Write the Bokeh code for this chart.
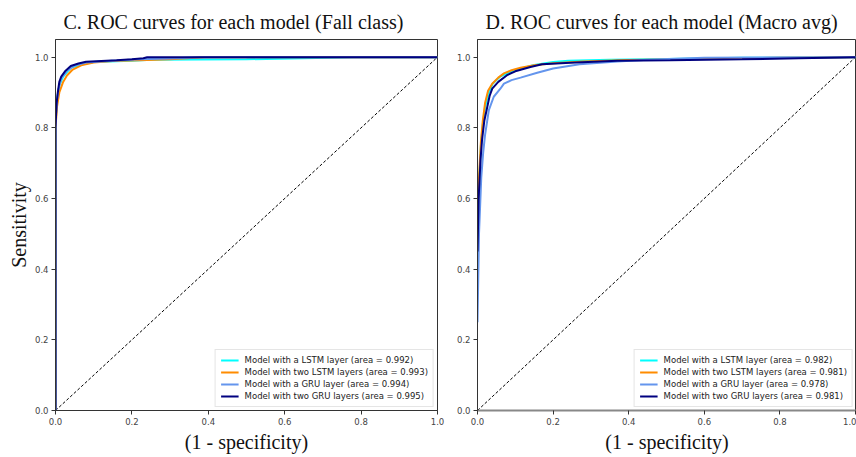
from bokeh.plotting import figure
from bokeh.layouts import row
from bokeh.models import Range1d, FixedTicker, PrintfTickFormatter, Legend
from bokeh.embed import file_html
from bokeh.resources import INLINE

# ---------------- data ----------------
model_labels = ["Model with a LSTM layer", "Model with two LSTM layers",
                "Model with a GRU layer", "Model with two GRU layers"]
colors = ["#00FFFF", "#FF8C00", "#6495ED", "#000080"]
ticks = [0.0, 0.2, 0.4, 0.6, 0.8, 1.0]

# Panel C: Fall class
fall_auc = [0.992, 0.993, 0.994, 0.995]
fall_lstm1_fpr = [0, 0, 0.004, 0.01, 0.02, 0.04, 0.07, 0.10, 0.20, 0.25, 0.50, 0.78, 1.0]
fall_lstm1_tpr = [0, 0.82, 0.88, 0.92, 0.945, 0.97, 0.98, 0.986, 0.990, 0.993, 0.994, 1.0, 1.0]
fall_lstm2_fpr = [0, 0, 0.004, 0.01, 0.02, 0.03, 0.045, 0.07, 0.10, 0.15, 0.22, 0.30, 0.39, 1.0]
fall_lstm2_tpr = [0, 0.80, 0.86, 0.90, 0.93, 0.948, 0.965, 0.978, 0.985, 0.989, 0.991, 0.994, 1.0, 1.0]
fall_gru1_fpr = [0, 0, 0.004, 0.008, 0.015, 0.03, 0.05, 0.08, 0.15, 0.22, 0.30, 0.38, 1.0]
fall_gru1_tpr = [0, 0.82, 0.88, 0.91, 0.94, 0.962, 0.976, 0.985, 0.990, 0.994, 0.996, 1.0, 1.0]
fall_gru2_fpr = [0, 0, 0.003, 0.006, 0.010, 0.015, 0.025, 0.04, 0.06, 0.08, 0.12, 0.16, 0.20, 0.23, 0.24, 1.0]
fall_gru2_tpr = [0, 0.80, 0.87, 0.90, 0.93, 0.945, 0.96, 0.975, 0.982, 0.987, 0.989, 0.991, 0.994, 0.997, 1.0, 1.0]

# Panel D: Macro average
macro_auc = [0.982, 0.981, 0.978, 0.981]
macro_lstm1_fpr = [0, 0.004, 0.009, 0.014, 0.02, 0.03, 0.04, 0.06, 0.08, 0.114, 0.15, 0.20, 0.24, 0.35, 0.50, 0.70, 1.0]
macro_lstm1_tpr = [0.45, 0.64, 0.75, 0.81, 0.86, 0.90, 0.925, 0.945, 0.955, 0.968, 0.978, 0.986, 0.990, 0.993, 0.995, 0.998, 1.0]
macro_lstm2_fpr = [0, 0.004, 0.009, 0.014, 0.02, 0.028, 0.039, 0.055, 0.07, 0.09, 0.114, 0.15, 0.20, 0.28, 0.40, 0.60, 0.80, 1.0]
macro_lstm2_tpr = [0.50, 0.66, 0.76, 0.82, 0.87, 0.905, 0.925, 0.942, 0.954, 0.963, 0.970, 0.977, 0.983, 0.988, 0.992, 0.995, 0.998, 1.0]
macro_gru1_fpr = [0, 0.004, 0.01, 0.015, 0.02, 0.03, 0.043, 0.06, 0.07, 0.09, 0.114, 0.158, 0.20, 0.27, 0.37, 0.45, 0.60, 1.0]
macro_gru1_tpr = [0.25, 0.50, 0.66, 0.73, 0.78, 0.85, 0.888, 0.91, 0.925, 0.935, 0.942, 0.956, 0.968, 0.980, 0.988, 0.993, 0.998, 1.0]
macro_gru2_fpr = [0, 0.003, 0.008, 0.012, 0.018, 0.024, 0.032, 0.039, 0.055, 0.078, 0.10, 0.14, 0.171, 0.246, 0.37, 0.51, 0.70, 0.85, 1.0]
macro_gru2_tpr = [0.45, 0.60, 0.71, 0.766, 0.82, 0.85, 0.89, 0.911, 0.93, 0.949, 0.96, 0.972, 0.980, 0.984, 0.990, 0.991, 0.994, 0.997, 1.0]

diag = [0.0, 1.0]

SERIF = "Liberation Serif"
SANS = "DejaVu Sans"


def make_panel(title, curves, aucs, width, x_end, min_left, min_right, ylabel=None,
               legend_margin=4):
    p = figure(width=width, height=457, x_range=Range1d(0, x_end), y_range=Range1d(0, 1.05),
               output_backend="svg", toolbar_location=None,
               min_border_left=min_left, min_border_right=min_right,
               min_border_top=39, min_border_bottom=47)
    p.xgrid.visible = False
    p.ygrid.visible = False
    p.outline_line_color = "#333333"
    p.outline_line_width = 1
    p.background_fill_color = "white"

    p.title.text = title
    p.title.text_font = SERIF
    p.title.text_font_size = "20px"
    p.title.text_font_style = "normal"
    p.title.text_color = "#111111"
    p.title.align = "left"
    p.title.offset = 8
    p.title.standoff = 14

    for ax in (p.xaxis[0], p.yaxis[0]):
        ax.ticker = FixedTicker(ticks=ticks)
        ax.formatter = PrintfTickFormatter(format="%.1f")
        ax.major_label_text_font = SANS
        ax.major_label_text_font_size = "8.5px"
        ax.major_label_text_color = "#444444"
        ax.major_tick_out = 4
        ax.major_tick_in = 0
        ax.minor_tick_out = 0
        ax.minor_tick_in = 0
        ax.major_tick_line_color = "#333333"
        ax.axis_line_color = "#333333"
        ax.major_label_standoff = 3
        ax.axis_label_text_font = SERIF
        ax.axis_label_text_font_size = "20px"
        ax.axis_label_text_font_style = "normal"
        ax.axis_label_text_color = "#111111"

    p.xaxis[0].axis_label = "(1 - specificity)"
    p.xaxis[0].axis_label_standoff = 3
    if ylabel:
        p.yaxis[0].axis_label = ylabel
        p.yaxis[0].axis_label_standoff = 2

    p.line(diag, diag, line_color="black", line_width=1, line_dash="3 2")

    items = []
    for (fx, fy), col, lab, auc in zip(curves, colors, model_labels, aucs):
        r = p.line(fx, fy, line_color=col, line_width=2)
        items.append(("%s (area = %.3f)" % (lab, auc), [r]))

    leg = Legend(items=items, location="bottom_right")
    leg.label_text_font = SANS
    leg.label_text_font_size = "8.5px"
    leg.label_text_color = "#222222"
    leg.glyph_width = 18
    leg.glyph_height = 10
    leg.label_height = 10
    leg.label_standoff = 6
    leg.spacing = 2
    leg.padding = 5
    leg.margin = legend_margin
    leg.border_line_color = "#cccccc"
    leg.border_line_width = 1
    leg.background_fill_alpha = 0.85
    p.add_layout(leg, "center")
    return p


p1 = make_panel("C. ROC curves for each model (Fall class)",
                [(fall_lstm1_fpr, fall_lstm1_tpr), (fall_lstm2_fpr, fall_lstm2_tpr),
                 (fall_gru1_fpr, fall_gru1_tpr), (fall_gru2_fpr, fall_gru2_tpr)],
                fall_auc, width=445, x_end=1.0, min_left=55, min_right=8, ylabel="Sensitivity",
                legend_margin=3)

p2 = make_panel("D. ROC curves for each model (Macro avg)",
                [(macro_lstm1_fpr, macro_lstm1_tpr), (macro_lstm2_fpr, macro_lstm2_tpr),
                 (macro_gru1_fpr, macro_gru1_tpr), (macro_gru2_fpr, macro_gru2_tpr)],
                macro_auc, width=411, x_end=379 / 378, min_left=32, min_right=0,
                legend_margin=3)
p2.xaxis[0].axis_line_color = "#888888"
p2.xaxis[0].axis_line_width = 2

layout = row(p1, p2, spacing=0)
open("out.html", "w").write(file_html(layout, INLINE))
